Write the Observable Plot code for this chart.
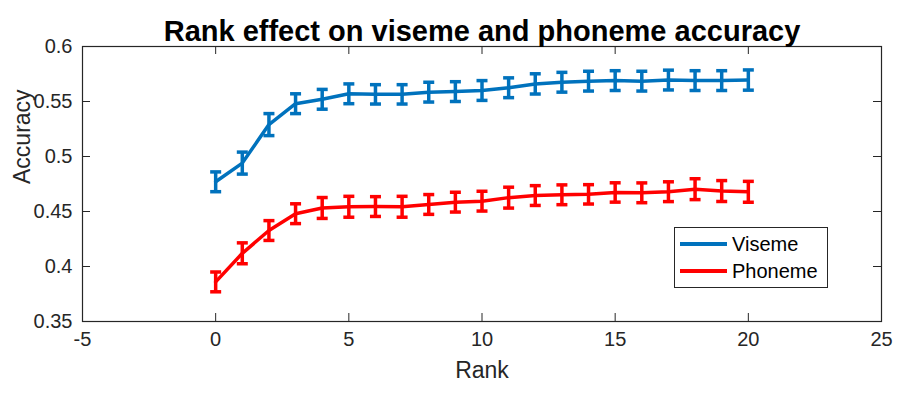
<!DOCTYPE html>
<html>
<head>
<meta charset="utf-8">
<script src="https://cdn.jsdelivr.net/npm/d3@7"></script>
<script src="https://cdn.jsdelivr.net/npm/@observablehq/plot@0.6"></script>
<style>
  html, body { margin: 0; padding: 0; background: #fff; }
  #wrap { position: relative; width: 923px; height: 395px; font-family: "Liberation Sans", Arial, sans-serif; }
  #legend { position: absolute; left: 674px; top: 227px; width: 152px; height: 59px; border: 1px solid #262626; background: #fff; }
  .lrow { position: absolute; left: 0; height: 24px; }
  .lline { position: absolute; left: 5px; width: 47px; height: 3.5px; }
  .ltext { position: absolute; left: 57px; font-size: 20px; color: #000; line-height: 24px; white-space: nowrap; }
</style>
</head>
<body>
<div id="wrap"></div>
<script>
const titleText = "Rank effect on viseme and phoneme accuracy";
const xLabel = "Rank";
const yLabel = "Accuracy";
const ranks = [0,1,2,3,4,5,6,7,8,9,10,11,12,13,14,15,16,17,18,19,20];
const visemeAcc = [0.477,0.494,0.529,0.548,0.552,0.557,0.5565,0.5565,0.5585,0.559,0.560,0.5625,0.566,0.5675,0.5685,0.569,0.5685,0.5695,0.569,0.569,0.5695];
const visemeErr = [0.009,0.010,0.010,0.009,0.009,0.009,0.0088,0.0088,0.009,0.009,0.009,0.009,0.0092,0.009,0.009,0.009,0.009,0.009,0.009,0.009,0.0092];
const phonemeAcc = [0.386,0.412,0.4327,0.448,0.4532,0.4543,0.4545,0.4543,0.4564,0.4585,0.4594,0.4626,0.4645,0.4652,0.4656,0.4673,0.467,0.468,0.4703,0.4686,0.4679];
const phonemeErr = [0.009,0.0095,0.009,0.009,0.0095,0.0095,0.009,0.0095,0.009,0.009,0.009,0.0095,0.009,0.009,0.0088,0.0088,0.009,0.009,0.0095,0.0095,0.0095];
const seriesNames = ["Viseme", "Phoneme"];
const seriesColors = ["#0072BD", "#FF0000"];
const xTicks = [-5,0,5,10,15,20,25];
const yTicks = [0.35,0.4,0.45,0.5,0.55,0.6];

const rows = [];
ranks.forEach((r, i) => rows.push({series: "Viseme", rank: r, acc: visemeAcc[i], err: visemeErr[i]}));
ranks.forEach((r, i) => rows.push({series: "Phoneme", rank: r, acc: phonemeAcc[i], err: phonemeErr[i]}));

const W = 923, H = 395;
const mL = 82, mR = 42, mT = 46, mB = 74;
const fw = W - mL - mR, fh = H - mT - mB;
const tick = 8;

const capSymbol = {
  draw(ctx, size) {
    const r = Math.sqrt(size / Math.PI);
    ctx.moveTo(-r, 0);
    ctx.lineTo(r, 0);
  }
};

const chart = Plot.plot({
  width: W,
  height: H,
  marginLeft: mL, marginRight: mR, marginTop: mT, marginBottom: mB,
  style: {fontFamily: "'Liberation Sans', Arial, sans-serif", color: "#262626", background: "#fff", overflow: "visible"},
  x: {domain: [-5, 25]},
  y: {domain: [0.35, 0.6]},
  color: {domain: seriesNames, range: seriesColors},
  marks: [
    Plot.tickX(xTicks.slice(1, -1), {x: d => d, insetTop: fh - tick, stroke: "#262626", strokeWidth: 1}),
    Plot.tickX(xTicks.slice(1, -1), {x: d => d, insetBottom: fh - tick, stroke: "#262626", strokeWidth: 1}),
    Plot.tickY(yTicks.slice(1, -1), {y: d => d, insetRight: fw - tick, stroke: "#262626", strokeWidth: 1}),
    Plot.tickY(yTicks.slice(1, -1), {y: d => d, insetLeft: fw - tick, stroke: "#262626", strokeWidth: 1}),
    Plot.frame({stroke: "#262626", strokeWidth: 1.2}),
    Plot.axisX({ticks: xTicks, tickSize: 0, tickPadding: 10, tickFormat: d => String(d), fontSize: 20, label: null}),
    Plot.axisY({ticks: yTicks, tickSize: 0, tickPadding: 10, tickFormat: d => String(d), fontSize: 20, label: null}),
    Plot.ruleX(rows, {x: "rank", y1: d => d.acc - d.err, y2: d => d.acc + d.err, stroke: "series", strokeWidth: 3.5}),
    Plot.dot(rows, {x: "rank", y: d => d.acc - d.err, r: 5.5, symbol: capSymbol, stroke: "series", strokeWidth: 3.5, fill: "none"}),
    Plot.dot(rows, {x: "rank", y: d => d.acc + d.err, r: 5.5, symbol: capSymbol, stroke: "series", strokeWidth: 3.5, fill: "none"}),
    Plot.line(rows, {x: "rank", y: "acc", z: "series", stroke: "series", strokeWidth: 3.5}),
    Plot.text([xLabel], {frameAnchor: "bottom", dy: 56, fontSize: 23, fill: "#262626"}),
    Plot.text([yLabel], {frameAnchor: "left", dx: -60, rotate: -90, fontSize: 23, fill: "#262626"}),
    Plot.text([titleText], {frameAnchor: "top", dy: -26, fontSize: 29, fontWeight: "bold", fill: "#000"})
  ]
});

const wrap = document.getElementById("wrap");
wrap.appendChild(chart);

const legend = document.createElement("div");
legend.id = "legend";
const rowCenters = [16, 43];
seriesNames.forEach((name, i) => {
  const row = document.createElement("div");
  row.className = "lrow";
  row.style.top = (rowCenters[i] - 12) + "px";
  row.style.width = "100%";
  const line = document.createElement("div");
  line.className = "lline";
  line.style.top = "10px";
  line.style.background = seriesColors[i];
  const txt = document.createElement("div");
  txt.className = "ltext";
  txt.textContent = name;
  row.appendChild(line);
  row.appendChild(txt);
  legend.appendChild(row);
});
wrap.appendChild(legend);
</script>
</body>
</html>
